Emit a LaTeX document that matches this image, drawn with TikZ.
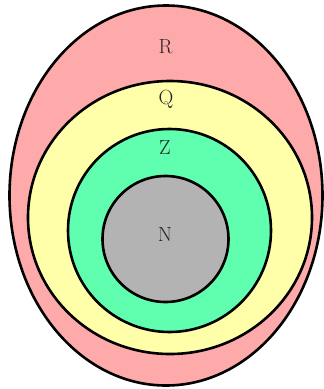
\documentclass[tikz,border=0pt]{standalone}
\usepackage{fontspec}
\usepackage{xcolor}
\definecolor{realcol}{HTML}{FFAAAA}
\definecolor{ratcol}{HTML}{FFFFAA}
\definecolor{intcol}{HTML}{5FFFAF}
\definecolor{natcol}{HTML}{B3B3B3}
\begin{document}
\begin{tikzpicture}[x=1pt, y=-1pt, line width=2.6pt, line join=round, line cap=round,
	setlabel/.style={text=black!85, font=\fontsize{20.5}{22}\selectfont, inner sep=0pt}]
	\useasboundingbox (0,0) rectangle (324,389);
	\draw[fill=realcol] (166,195.5) ellipse [x radius=156.5, y radius=190];
	\draw[fill=ratcol] (170,217.5) ellipse [x radius=142, y radius=136.5];
	\draw[fill=intcol] (169.5,230.5) circle (101.5);
	\draw[fill=natcol] (165.5,239) circle (63);
	\node[setlabel] (lblR) at (165.5,47) {R};
	\node[setlabel] (lblQ) at (166,99) {Q};
	\node[setlabel] (lblZ) at (165,147) {Z};
	\node[setlabel] (lblN) at (165,234.5) {N};
\end{tikzpicture}
\end{document}
